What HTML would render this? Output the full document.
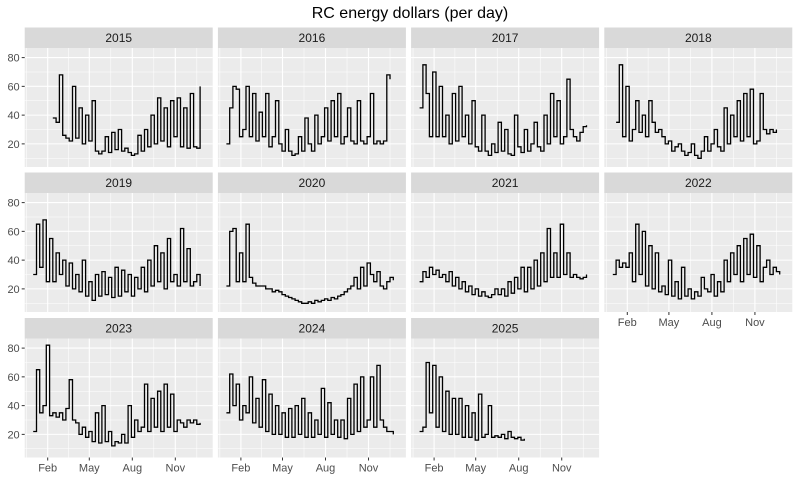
<!DOCTYPE html>
<html><head><meta charset="utf-8"><style>
body{margin:0;background:#fff;font-family:"Liberation Sans",sans-serif;}
svg text{font-family:"Liberation Sans",sans-serif;}
</style></head><body>
<svg id="chart" width="800" height="480" xmlns="http://www.w3.org/2000/svg">
<text x="410" y="18" text-anchor="middle" font-size="16" fill="#000">RC energy dollars (per day)</text>
</svg>
<script>
const years = ["2015","2016","2017","2018","2019","2020","2021","2022","2023","2024","2025"];
const startWeeks = [6,0,0,1,0,0,0,0,0,0,0];
const v2015 = [38,35,68,26,24,22,60,24,45,20,40,22,50,15,13,15,25,14,28,16,30,15,17,14,12,13,26,15,30,18,40,20,52,22,45,18,50,25,52,18,45,17,55,18,17,60];
const v2016 = [20,45,60,58,25,30,60,25,55,22,42,25,55,18,25,50,20,15,30,15,12,13,25,15,38,20,15,40,20,25,45,22,50,25,55,20,25,45,22,20,50,22,20,25,55,20,22,20,22,68,65];
const v2017 = [45,75,55,25,70,25,60,25,40,20,55,22,60,25,40,20,50,18,15,40,15,12,20,14,35,15,30,13,12,40,18,14,30,15,20,35,18,15,40,20,55,25,50,20,25,65,30,25,22,28,32,33];
const v2018 = [35,75,25,60,22,30,50,28,40,25,50,35,28,30,25,20,22,15,18,20,15,12,14,20,12,10,15,25,15,20,30,18,15,45,20,40,25,50,22,55,25,58,20,22,55,30,27,30,28,30];
const v2019 = [30,65,35,68,25,55,25,45,30,40,22,38,20,30,18,40,15,25,12,30,15,32,16,28,14,35,15,33,18,30,15,28,20,35,18,40,22,50,25,45,20,55,25,30,22,62,25,48,22,25,30,22];
const v2020 = [22,60,62,25,45,25,65,28,24,22,22,22,20,20,18,19,18,16,15,14,13,12,11,10,10,11,10,12,11,12,13,12,14,13,15,16,18,20,22,28,20,35,22,38,30,25,32,22,20,25,28,26];
const v2021 = [25,32,28,35,30,33,28,30,25,32,22,28,20,25,18,22,16,20,15,18,15,14,16,20,16,20,15,25,17,28,20,35,18,35,20,40,22,45,25,62,28,45,28,65,30,45,28,30,28,27,28,30];
const v2022 = [30,40,35,38,35,45,25,65,30,60,22,50,20,45,18,22,16,40,15,25,13,35,15,20,13,18,15,28,20,18,30,15,25,18,40,25,45,30,50,25,55,30,58,28,50,25,35,40,30,35,32,30];
const v2023 = [22,65,35,40,82,33,35,32,35,30,38,58,30,28,20,25,18,22,15,35,14,40,15,22,12,15,14,20,14,40,18,30,22,25,55,22,45,25,50,22,55,25,48,22,30,28,25,30,28,30,27,28];
const v2024 = [35,62,40,55,30,40,35,60,28,45,25,58,22,48,20,40,20,35,18,38,18,40,20,45,18,35,18,30,20,52,18,42,20,30,18,30,17,45,20,55,22,60,25,30,60,25,68,30,25,22,22,20];
const v2025 = [22,25,70,35,68,25,60,22,50,20,45,20,45,18,40,18,35,16,48,18,20,40,18,19,18,20,17,22,18,17,18,16,17];
const series = [v2015,v2016,v2017,v2018,v2019,v2020,v2021,v2022,v2023,v2024,v2025];
const yTicks = [20,40,60,80];
const yMinor = [10,30,50,70];
const monthLabels = ["Feb","May","Aug","Nov"];
const monthDays = [31,120,212,304];
const minorDays = [75.5,166,258];

const NS="http://www.w3.org/2000/svg";
const svg=document.getElementById('chart');
function mk(tag,attrs,parent){const e=document.createElementNS(NS,tag);for(const k in attrs)e.setAttribute(k,attrs[k]);(parent||svg).appendChild(e);return e;}
const colX=[24.7,217.9,411.1,604.3], PW=188, stripTops=[27.5,172.5,318], SH=20.5, PH=119;
function xScale(col,day){return colX[col]+8.5+day*0.4675;}
function yScale(row,v){return stripTops[row]+SH+9.6+(80-v)*1.438;}

years.forEach((yr,i)=>{
  const row=Math.floor(i/4), col=i%4;
  const px=colX[col], st=stripTops[row], pt=st+SH;
  const g=mk('g',{});
  
  
  const strip=mk('rect',{x:px,y:st,width:PW,height:SH,fill:'#D9D9D9'},g);
  
  
  const st2=mk('text',{x:px+PW/2,y:st+14.5,'text-anchor':'middle','font-size':12,fill:'#1A1A1A'},g);
  st2.textContent=yr;
  
  
  const bg=mk('rect',{x:px,y:pt,width:PW,height:PH,fill:'#EBEBEB'},g);
  
  
  yMinor.forEach(v=>{const y=yScale(row,v);if(y<pt+PH)mk('line',{x1:px,x2:px+PW,y1:y,y2:y,stroke:'#fff','stroke-width':0.55},g);});
  minorDays.forEach(d=>{const x=xScale(col,d);mk('line',{x1:x,x2:x,y1:pt,y2:pt+PH,stroke:'#fff','stroke-width':0.55},g);});
  const x0=xScale(col,-14);mk('line',{x1:x0,x2:x0,y1:pt,y2:pt+PH,stroke:'#fff','stroke-width':0.55},g);
  const x9=xScale(col,350);mk('line',{x1:x9,x2:x9,y1:pt,y2:pt+PH,stroke:'#fff','stroke-width':0.55},g);
  yTicks.forEach(v=>{const y=yScale(row,v);mk('line',{x1:px,x2:px+PW,y1:y,y2:y,stroke:'#fff','stroke-width':1.1},g);});
  monthDays.forEach(d=>{const x=xScale(col,d);mk('line',{x1:x,x2:x,y1:pt,y2:pt+PH,stroke:'#fff','stroke-width':1.1},g);});
  // line (step)
  const vals=series[i], sw=startWeeks[i];
  let dstr='';
  vals.forEach((v,k)=>{
    const x=xScale(col,(sw+k)*7), y=yScale(row,v);
    if(k===0) dstr+='M'+x.toFixed(1)+','+y.toFixed(1);
    else dstr+='H'+x.toFixed(1)+'V'+y.toFixed(1);
  });
  const ln=mk('path',{d:dstr,fill:'none',stroke:'#000','stroke-width':1.3},g);
  
  
  if(col===0){
    yTicks.forEach(v=>{const y=yScale(row,v);
      mk('line',{x1:px-3,x2:px,y1:y,y2:y,stroke:'#333','stroke-width':1},g);
      const t=mk('text',{x:px-5,y:y+4,'text-anchor':'end','font-size':11,fill:'#4D4D4D'},g);
      t.textContent=v;
      
      
    });
  }
  const bottom = (row===2) || (row===1 && col===3);
  if(bottom){
    monthDays.forEach((d,m)=>{const x=xScale(col,d);
      mk('line',{x1:x,x2:x,y1:pt+PH,y2:pt+PH+3,stroke:'#333','stroke-width':1},g);
      const t=mk('text',{x:x,y:pt+PH+14,'text-anchor':'middle','font-size':11,fill:'#4D4D4D'},g);
      t.textContent=monthLabels[m];
      
      
    });
  }
});
</script>
</body></html>
